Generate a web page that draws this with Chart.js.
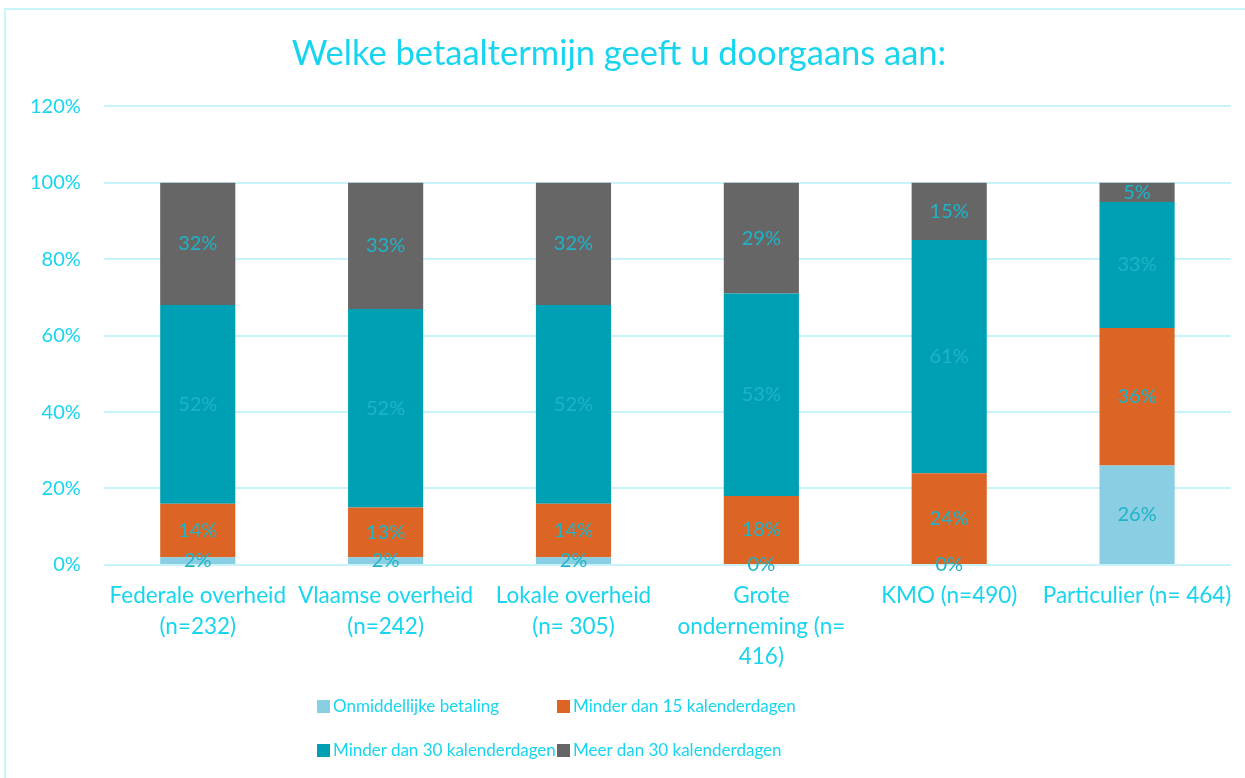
<!DOCTYPE html>
<html>
<head>
<meta charset="utf-8">
<script src="https://cdn.jsdelivr.net/npm/chart.js@4"></script>
<style>
    body { margin: 0; background: #fff; }
    #wrap { position: relative; width: 1245px; height: 778px; overflow: hidden; font-family: Lato, sans-serif; }
    #frame { position: absolute; left: 4px; top: 8px; width: 1260px; height: 800px; border: 2px solid #c9f5fb; box-sizing: border-box; }
    #chart { position: absolute; left: 0; top: 0; }
    #legend { position: absolute; left: 317px; top: 692px; display: grid; grid-template-columns: 240px 260px; row-gap: 16px; }
    .item { display: flex; align-items: center; color: #17d5ef; font-size: 17px; line-height: 28px; white-space: nowrap; }
    .swatch { flex: none; width: 13px; height: 13px; margin-right: 3px; }
</style>
</head>
<body>
<div id="wrap">
    <div id="frame"></div>
    <canvas id="chart" width="1245" height="778"></canvas>
    <div id="legend"></div>
</div>
<script>
const categories = [
    ['Federale overheid', '(n=232)'],
    ['Vlaamse overheid', '(n=242)'],
    ['Lokale overheid', '(n= 305)'],
    ['Grote', 'onderneming (n=', '416)'],
    ['KMO (n=490)'],
    ['Particulier (n= 464)']
];
const onmiddellijk = [2, 2, 2, 0, 0, 26];
const minder15 = [14, 13, 14, 18, 24, 36];
const minder30 = [52, 52, 52, 53, 61, 33];
const meer30 = [32, 33, 32, 29, 15, 5];
const yTicks = [0, 20, 40, 60, 80, 100, 120];

const textColor = '#17d5ef';
const labelColor = '#1fb3c8';

// draws the percentage in the middle of every segment
const segmentLabels = {
    id: 'segmentLabels',
    afterDatasetsDraw(chart) {
        const ctx = chart.ctx;
        ctx.save();
        ctx.font = '20px Lato';
        ctx.fillStyle = labelColor;
        ctx.textAlign = 'center';
        ctx.textBaseline = 'middle';
        chart.data.datasets.forEach((ds, i) => {
            const meta = chart.getDatasetMeta(i);
            meta.data.forEach((bar, j) => {
                const y = (bar.y + bar.base) / 2;
                ctx.fillText(ds.data[j] + '%', bar.x, y);
            });
        });
        ctx.restore();
    }
};

const chart = new Chart(document.getElementById('chart'), {
    type: 'bar',
    data: {
        labels: categories,
        datasets: [
            { label: 'Onmiddellijke betaling', data: onmiddellijk, backgroundColor: '#89cee2' },
            { label: 'Minder dan 15 kalenderdagen', data: minder15, backgroundColor: '#dc6526' },
            { label: 'Minder dan 30 kalenderdagen', data: minder30, backgroundColor: '#00a0b4' },
            { label: 'Meer dan 30 kalenderdagen', data: meer30, backgroundColor: '#666666' }
        ]
    },
    options: {
        responsive: false,
        animation: false,
        layout: { padding: { left: 7, right: 14, top: 13, bottom: 98 } },
        datasets: { bar: { categoryPercentage: 1, barPercentage: 0.4 } },
        plugins: {
            legend: { display: false },
            tooltip: { enabled: false },
            title: {
                display: true,
                text: 'Welke betaaltermijn geeft u doorgaans aan:',
                color: textColor,
                font: { family: 'Lato', size: 34.5, weight: 'normal' },
                padding: { top: 20, bottom: 32 }
            }
        },
        scales: {
            x: {
                stacked: true,
                grid: { display: false },
                border: { display: false },
                ticks: { color: textColor, font: { family: 'Lato', size: 22.5, lineHeight: 1.35 }, padding: 8, maxRotation: 0, autoSkip: false }
            },
            y: {
                stacked: true,
                min: 0,
                max: 120,
                afterBuildTicks: axis => { axis.ticks = yTicks.map(v => ({ value: v })); },
                grid: { color: '#c9f3fa', lineWidth: 2, drawTicks: false },
                border: { display: false },
                ticks: { color: textColor, font: { family: 'Lato', size: 20 }, padding: 23, callback: v => v + '%' }
            }
        }
    },
    plugins: [segmentLabels]
});

const legend = document.getElementById('legend');
chart.data.datasets.forEach(ds => {
    const item = document.createElement('div');
    item.className = 'item';
    item.innerHTML = `<span class="swatch" style="background:${ds.backgroundColor}"></span>${ds.label}`;
    legend.appendChild(item);
});
</script>
</body>
</html>
